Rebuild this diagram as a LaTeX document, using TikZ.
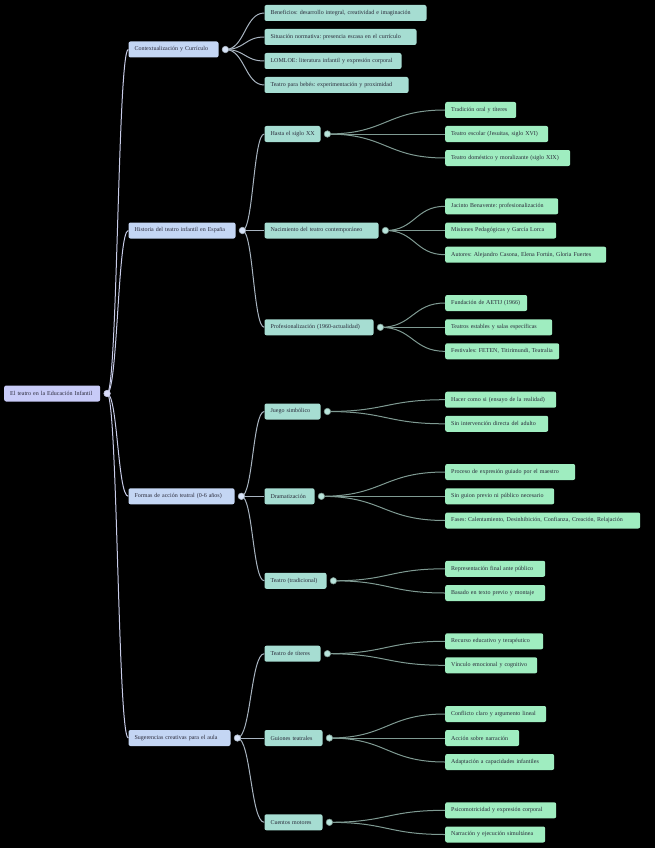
\documentclass[tikz,border=0pt]{standalone}
\usepackage{fontspec}
\setmainfont{Liberation Serif}
\usetikzlibrary{calc}

\definecolor{rootfill}{HTML}{C8CBF8}
\definecolor{onefill}{HTML}{C4D6F4}
\definecolor{twofill}{HTML}{A6DDD2}
\definecolor{threefill}{HTML}{9FEDC0}
\definecolor{textcol}{HTML}{2A2A3A}
\definecolor{rootline}{HTML}{C8CCE8}
\definecolor{oneline}{HTML}{A8B4C0}
\definecolor{twoline}{HTML}{7F9A92}

% curved link from a toggle to the west side of a child
\newcommand{\branch}[3]{\draw[#1] let \p1=(#2), \p2=(#3.west) in
  (\p1) .. controls ({(\x1+\x2)/2},\y1) and ({(\x1+\x2)/2},\y2) .. (\p2);}

\begin{document}
\begin{tikzpicture}[x=1pt, y=-1pt,
  box/.style={anchor=west, rounded corners=2pt, minimum height=16pt,
    inner xsep=6pt, inner ysep=0pt, text width=#1, align=left,
    font=\fontsize{6}{7}\selectfont\frenchspacing, text=textcol,
    execute at begin node=\hbox\bgroup, execute at end node=\egroup},
  rootbox/.style={box=#1, fill=rootfill},
  onebox/.style={box=#1, fill=onefill},
  twobox/.style={box=#1, fill=twofill},
  threebox/.style={box=#1, fill=threefill},
  link/.style={line width=1pt, draw=#1},
  toggle/.style={circle, minimum size=6.5pt, inner sep=0pt, line width=0.6pt}]

  \fill[black] (0,0) rectangle (655,848);

  % root and first level
  \node[rootbox=84pt] (root) at (4,393.5) {El teatro en la Educación Infantil};
  \node[onebox=78pt] (ctx) at (128.3,49.5) {Contextualización y Currículo};
  \node[onebox=95pt] (hist) at (128.3,230.5) {Historia del teatro infantil en España};
  \node[onebox=94pt] (formas) at (128.3,496.3) {Formas de acción teatral (0-6 años)};
  \node[onebox=90pt] (sug) at (128.3,738) {Sugerencias creativas para el aula};

  % second level
  \node[twobox=150pt] (benef) at (264.3,13) {Beneficios: desarrollo integral, creatividad e imaginación};
  \node[twobox=140pt] (situ) at (264.3,37) {Situación normativa: presencia escasa en el currículo};
  \node[twobox=125pt] (lomloe) at (264.3,61) {LOMLOE: literatura infantil y expresión corporal};
  \node[twobox=132pt] (bebes) at (264.3,85) {Teatro para bebés: experimentación y proximidad};
  \node[twobox=44pt] (hasta) at (264.3,134) {Hasta el siglo XX};
  \node[twobox=102pt] (nacim) at (264.3,230.5) {Nacimiento del teatro contemporáneo};
  \node[twobox=97pt] (profes) at (264.3,327.3) {Profesionalización (1960-actualidad)};
  \node[twobox=44pt] (juego) at (264.3,411.5) {Juego simbólico};
  \node[twobox=38pt] (drama) at (264.3,496.3) {Dramatización};
  \node[twobox=50pt] (tradic) at (264.3,580.8) {Teatro (tradicional)};
  \node[twobox=44pt] (titeres) at (264.3,653.7) {Teatro de títeres};
  \node[twobox=46pt] (guiones) at (264.3,738) {Guiones teatrales};
  \node[twobox=46pt] (cuentos) at (264.3,822.3) {Cuentos motores};

  % third level
  \node[threebox=59pt] (oral) at (445,110) {Tradición oral y títeres};
  \node[threebox=91pt] (escolar) at (445,134) {Teatro escolar (Jesuitas, siglo XVI)};
  \node[threebox=113pt] (domest) at (445,158) {Teatro doméstico y moralizante (siglo XIX)};
  \node[threebox=101pt] (jacinto) at (445,206.3) {Jacinto Benavente: profesionalización};
  \node[threebox=99pt] (misiones) at (445,230.5) {Misiones Pedagógicas y García Lorca};
  \node[threebox=149pt] (autores) at (445,254.7) {Autores: Alejandro Casona, Elena Fortún, Gloria Fuertes};
  \node[threebox=70pt] (aetij) at (445,303) {Fundación de AETIJ (1966)};
  \node[threebox=95pt] (estables) at (445,327.3) {Teatros estables y salas específicas};
  \node[threebox=102pt] (festiv) at (445,351.3) {Festivales: FETEN, Titirimundi, Teatralia};
  \node[threebox=99pt] (hacer) at (445,399.7) {Hacer como si (ensayo de la realidad)};
  \node[threebox=91pt] (sininterv) at (445,423.8) {Sin intervención directa del adulto};
  \node[threebox=118pt] (proceso) at (445,472) {Proceso de expresión guiado por el maestro};
  \node[threebox=97pt] (singuion) at (445,496.3) {Sin guion previo ni público necesario};
  \node[threebox=183pt] (fases) at (445,520.5) {Fases: Calentamiento, Desinhibición, Confianza, Creación, Relajación};
  \node[threebox=88pt] (repres) at (445,568.8) {Representación final ante público};
  \node[threebox=88pt] (basado) at (445,593) {Basado en texto previo y montaje};
  \node[threebox=86pt] (recurso) at (445,641.3) {Recurso educativo y terapéutico};
  \node[threebox=80pt] (vinculo) at (445,665.3) {Vínculo emocional y cognitivo};
  \node[threebox=89pt] (conflicto) at (445,714) {Conflicto claro y argumento lineal};
  \node[threebox=62pt] (accion) at (445,738) {Acción sobre narración};
  \node[threebox=97pt] (adapt) at (445,762) {Adaptación a capacidades infantiles};
  \node[threebox=99pt] (psico) at (445,810.3) {Psicomotricidad y expresión corporal};
  \node[threebox=88pt] (narrac) at (445,834.5) {Narración y ejecución simultánea};

  % toggles sit just right of their boxes
  \foreach \n in {root,ctx,hist,formas,sug,hasta,nacim,profes,juego,drama,tradic,titeres,guiones,cuentos}
    \coordinate (t-\n) at ($(\n.east)+(6.7,0)$);

  % links
  \foreach \kid in {ctx,hist,formas,sug}
    \branch{link=rootline}{t-root}{\kid};
  \foreach \up/\kid in {ctx/benef,ctx/situ,ctx/lomloe,ctx/bebes,hist/hasta,hist/nacim,hist/profes,
      formas/juego,formas/drama,formas/tradic,sug/titeres,sug/guiones,sug/cuentos}
    \branch{link=oneline}{t-\up}{\kid};
  \foreach \up/\kid in {hasta/oral,hasta/escolar,hasta/domest,nacim/jacinto,nacim/misiones,nacim/autores,
      profes/aetij,profes/estables,profes/festiv,juego/hacer,juego/sininterv,
      drama/proceso,drama/singuion,drama/fases,tradic/repres,tradic/basado,
      titeres/recurso,titeres/vinculo,guiones/conflicto,guiones/accion,guiones/adapt,
      cuentos/psico,cuentos/narrac}
    \branch{link=twoline}{t-\up}{\kid};

  % toggle circles
  \node[toggle, draw=rootline, fill=white!30!rootfill] (c-root) at (t-root) {};
  \foreach \n in {ctx,hist,formas,sug}
    \node[toggle, draw=oneline, fill=white!30!onefill] (c-\n) at (t-\n) {};
  \foreach \n in {hasta,nacim,profes,juego,drama,tradic,titeres,guiones,cuentos}
    \node[toggle, draw=twoline, fill=white!20!twofill] (c-\n) at (t-\n) {};
\end{tikzpicture}
\end{document}
